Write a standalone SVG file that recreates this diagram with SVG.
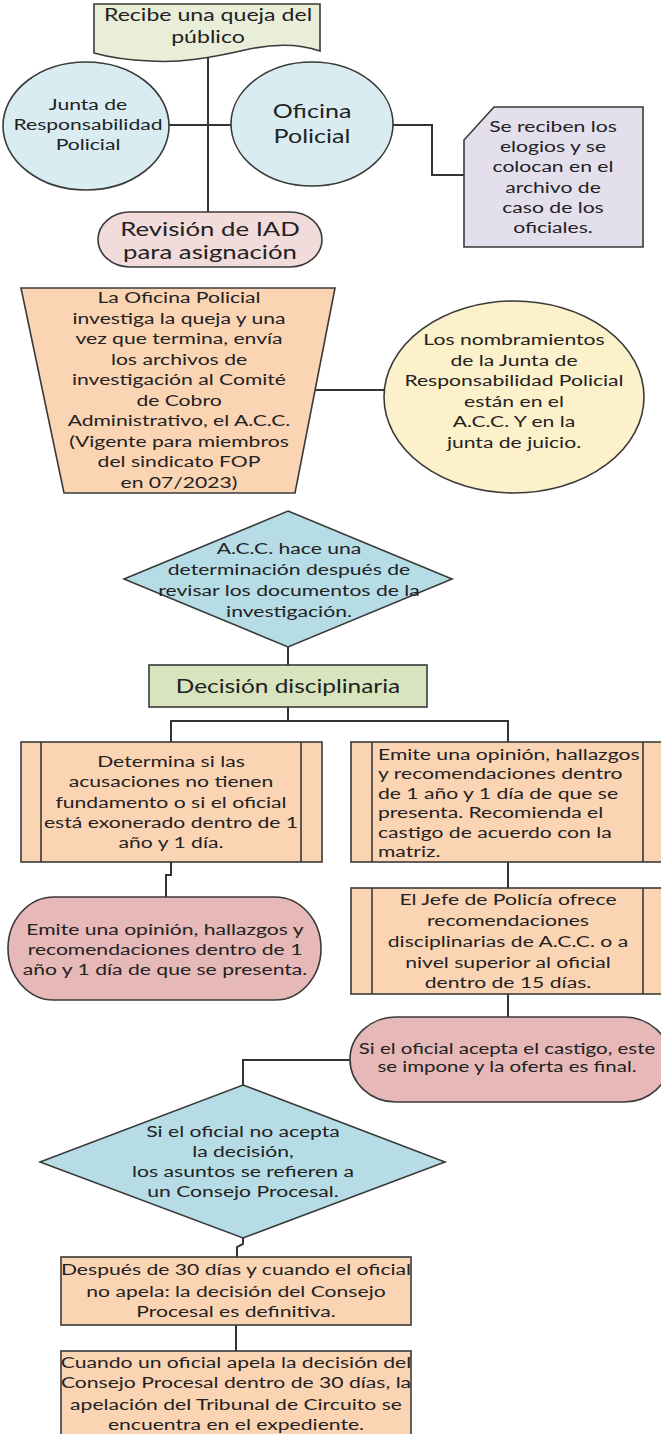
<svg xmlns="http://www.w3.org/2000/svg" width="661" height="1434" viewBox="0 0 661 1434">
<style>
.s{stroke:#3a3a3a;stroke-width:1.6}
.c{fill:none;stroke:#333;stroke-width:2}
.t{font-family:Lato,"Liberation Sans",sans-serif;font-size:16px;fill:#222;text-anchor:middle}
.l{text-anchor:start}
.green{fill:#e9eed9}
.blue{fill:#d9ecf2}
.lav{fill:#e4dfec}
.pink{fill:#f2dcdb}
.peach{fill:#fbd4b4}
.yel{fill:#fdf1cb}
.dia{fill:#b6dce6}
.dec{fill:#d7e4bd}
.rose{fill:#e6b8b7}
</style>
<rect width="661" height="1434" fill="#ffffff"/>
<g id="connectors">
<path class="c" d="M208,56 V212"/>
<path class="c" d="M169,125 H231"/>
<path class="c" d="M393,125 H432 V175 H464"/>
<path class="c" d="M314,390 H384"/>
<path class="c" d="M288,647 V665"/>
<path class="c" d="M288,707 V721"/>
<path class="c" d="M171,742 V721 H508 V742"/>
<path class="c" d="M171,862 V875 H166 V897"/>
<path class="c" d="M508,862 V888"/>
<path class="c" d="M508,994 V1017"/>
<path class="c" d="M350,1060 H243 V1085"/>
<path class="c" d="M243,1238 V1244 L237,1247 V1257"/>
<path class="c" d="M236,1325 V1351"/>
</g>
<g id="n-queja">
<path class="s green" d="M94,4 H320 V51 C300,44 275,43 245,50 C210,58 180,63 150,61 C125,60 108,57 94,53 Z"/>
<text class="t" style="font-size:17.5px" transform="matrix(1.32 0 0 1 208 0)"><tspan x="0" y="21">Recibe una queja del</tspan><tspan x="0" y="43">público</tspan></text>
</g>
<g id="n-junta">
<ellipse class="s blue" cx="86" cy="126" rx="83" ry="64"/>
<text class="t" transform="matrix(1.32 0 0 1 88 0)"><tspan x="0" y="110.5">Junta de</tspan><tspan x="0" y="130.5">Responsabilidad</tspan><tspan x="0" y="150.5">Policial</tspan></text>
</g>
<g id="n-oficina">
<ellipse class="s blue" cx="312" cy="124" rx="81" ry="62"/>
<text class="t" style="font-size:19px" transform="matrix(1.32 0 0 1 312 0)"><tspan x="0" y="118.5">Oficina</tspan><tspan x="0" y="143.5">Policial</tspan></text>
</g>
<g id="n-elogios">
<polygon class="s lav" points="494,107 643,107 643,247 464,247 464,140"/>
<text class="t" transform="matrix(1.32 0 0 1 553 0)"><tspan x="0" y="132.5">Se reciben los</tspan><tspan x="0" y="152.5">elogios y se</tspan><tspan x="0" y="172.5">colocan en el</tspan><tspan x="0" y="193.5">archivo de</tspan><tspan x="0" y="213.5">caso de los</tspan><tspan x="0" y="233.5">oficiales.</tspan></text>
</g>
<g id="n-revision">
<rect class="s pink" x="98" y="212" width="224" height="55" rx="32" ry="27.5"/>
<text class="t" style="font-size:19.5px" transform="matrix(1.32 0 0 1 210 0)"><tspan x="0" y="236.5">Revisión de IAD</tspan><tspan x="0" y="259.5">para asignación</tspan></text>
</g>
<g id="n-investiga">
<polygon class="s peach" points="21,288 335,288 295,493 64,493"/>
<text class="t" transform="matrix(1.32 0 0 1 179 0)"><tspan x="0" y="303.5">La Oficina Policial</tspan><tspan x="0" y="324">investiga la queja y una</tspan><tspan x="0" y="344.5">vez que termina, envía</tspan><tspan x="0" y="365">los archivos de</tspan><tspan x="0" y="385.5">investigación al Comité</tspan><tspan x="0" y="406">de Cobro</tspan><tspan x="0" y="426.5">Administrativo, el A.C.C.</tspan><tspan x="0" y="447">(Vigente para miembros</tspan><tspan x="0" y="467.5">del sindicato FOP</tspan><tspan x="0" y="488">en 07/2023)</tspan></text>
</g>
<g id="n-nombramientos">
<ellipse class="s yel" cx="514" cy="397" rx="130" ry="96"/>
<text class="t" transform="matrix(1.32 0 0 1 514 0)"><tspan x="0" y="345.5">Los nombramientos</tspan><tspan x="0" y="366">de la Junta de</tspan><tspan x="0" y="386.5">Responsabilidad Policial</tspan><tspan x="0" y="407">están en el</tspan><tspan x="0" y="427.5">A.C.C. Y en la</tspan><tspan x="0" y="448">junta de juicio.</tspan></text>
</g>
<g id="n-acc">
<polygon class="s dia" points="288,511 452,579 288,647 124,579"/>
<text class="t" transform="matrix(1.32 0 0 1 289 0)"><tspan x="0" y="554.5">A.C.C. hace una</tspan><tspan x="0" y="575.5">determinación después de</tspan><tspan x="0" y="596.5">revisar los documentos de la</tspan><tspan x="0" y="617.5">investigación.</tspan></text>
</g>
<g id="n-decision">
<rect class="s dec" x="149" y="665" width="278" height="42"/>
<text class="t" style="font-size:18.5px" transform="matrix(1.32 0 0 1 288 0)"><tspan x="0" y="693">Decisión disciplinaria</tspan></text>
</g>
<g id="n-determina">
<rect class="s peach" x="21" y="742" width="301" height="120"/>
<path class="s" d="M41,742 V862 M301,742 V862"/>
<text class="t" transform="matrix(1.32 0 0 1 171 0)"><tspan x="0" y="767.5">Determina si las</tspan><tspan x="0" y="787.5">acusaciones no tienen</tspan><tspan x="0" y="808.5">fundamento o si el oficial</tspan><tspan x="0" y="828.5">está exonerado dentro de 1</tspan><tspan x="0" y="848.5">año y 1 día.</tspan></text>
</g>
<g id="n-emite-matriz">
<rect class="s peach" x="351" y="742" width="320" height="120"/>
<path class="s" d="M372,742 V862 M643,742 V862"/>
<text class="t l" transform="matrix(1.32 0 0 1 378 0)"><tspan x="0" y="760">Emite una opinión, hallazgos</tspan><tspan x="0" y="779.5">y recomendaciones dentro</tspan><tspan x="0" y="799">de 1 año y 1 día de que se</tspan><tspan x="0" y="818.5">presenta. Recomienda el</tspan><tspan x="0" y="838">castigo de acuerdo con la</tspan><tspan x="0" y="857">matriz.</tspan></text>
</g>
<g id="n-emite-pill">
<rect class="s rose" x="8" y="897" width="313" height="103" rx="46" ry="51.5"/>
<text class="t" transform="matrix(1.32 0 0 1 165 0)"><tspan x="0" y="935.5">Emite una opinión, hallazgos y</tspan><tspan x="0" y="955.5">recomendaciones dentro de 1</tspan><tspan x="0" y="975.5">año y 1 día de que se presenta.</tspan></text>
</g>
<g id="n-jefe">
<rect class="s peach" x="351" y="888" width="320" height="106"/>
<path class="s" d="M372,888 V994 M643,888 V994"/>
<text class="t" transform="matrix(1.32 0 0 1 508 0)"><tspan x="0" y="905.5">El Jefe de Policía ofrece</tspan><tspan x="0" y="926.5">recomendaciones</tspan><tspan x="0" y="947.5">disciplinarias de A.C.C. o a</tspan><tspan x="0" y="968.5">nivel superior al oficial</tspan><tspan x="0" y="988.5">dentro de 15 días.</tspan></text>
</g>
<g id="n-acepta">
<rect class="s rose" x="350" y="1017" width="320" height="85" rx="46" ry="42.5"/>
<text class="t" style="font-size:15.5px" transform="matrix(1.32 0 0 1 507 0)"><tspan x="0" y="1054.5">Si el oficial acepta el castigo, este</tspan><tspan x="0" y="1072.5">se impone y la oferta es final.</tspan></text>
</g>
<g id="n-no-acepta">
<polygon class="s dia" points="243,1085 445,1162 243,1238 40,1162"/>
<text class="t" transform="matrix(1.32 0 0 1 243 0)"><tspan x="0" y="1137.5">Si el oficial no acepta</tspan><tspan x="0" y="1157.5">la decisión,</tspan><tspan x="0" y="1177.5">los asuntos se refieren a</tspan><tspan x="0" y="1197.5">un Consejo Procesal.</tspan></text>
</g>
<g id="n-30dias">
<rect class="s peach" x="61" y="1257" width="350" height="68"/>
<text class="t" transform="matrix(1.32 0 0 1 236 0)"><tspan x="0" y="1275.5">Después de 30 días y cuando el oficial</tspan><tspan x="0" y="1297.5">no apela: la decisión del Consejo</tspan><tspan x="0" y="1317.5">Procesal es definitiva.</tspan></text>
</g>
<g id="n-apela">
<rect class="s peach" x="61" y="1351" width="350" height="90"/>
<text class="t" transform="matrix(1.32 0 0 1 236 0)"><tspan x="0" y="1368.5">Cuando un oficial apela la decisión del</tspan><tspan x="0" y="1388.5">Consejo Procesal dentro de 30 días, la</tspan><tspan x="0" y="1410.5">apelación del Tribunal de Circuito se</tspan><tspan x="0" y="1430.5">encuentra en el expediente.</tspan></text>
</g>
</svg>
